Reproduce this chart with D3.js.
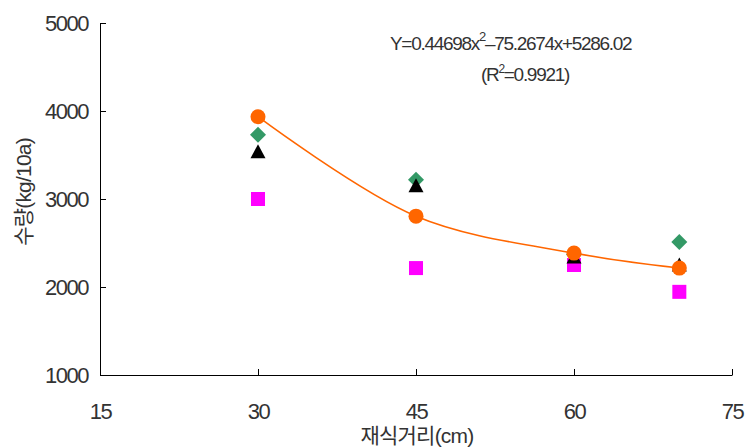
<!DOCTYPE html>
<html>
<head>
<meta charset="utf-8">
<script src="https://cdn.jsdelivr.net/npm/d3@7"></script>
<style>
  body { margin: 0; background: #fff; }
  text { font-family: "Liberation Sans", "Noto Sans CJK KR", sans-serif; fill: #333; }
</style>
</head>
<body>
<svg width="746" height="448"></svg>
<script>
// spacing (cm) and yield (kg/10a) for four series
const spacing = [30, 45, 60, 70]
const circleVals = [3935, 2805, 2385, 2215]
const diamondVals = [3730, 3220, 2370, 2510]
const triangleVals = [3530, 3145, 2335, 2245]
const squareVals = [3000, 2215, 2250, 1945]

const xTicks = [15, 30, 45, 60, 75]
const yTicks = [1000, 2000, 3000, 4000, 5000]

const svg = d3.select('svg')

const x = d3.scaleLinear().domain([15, 75]).range([100, 732])
const y = d3.scaleLinear().domain([1000, 5000]).range([375, 23])

// axes, ticks pointing inward
svg.append('g')
  .attr('transform', 'translate(0,375)')
  .call(d3.axisBottom(x).tickValues(xTicks).tickFormat(d3.format('d'))
    .tickSizeInner(-6).tickSizeOuter(0).tickPadding(28))
svg.append('g')
  .attr('transform', 'translate(100,0)')
  .call(d3.axisLeft(y).tickValues(yTicks).tickFormat(d3.format('d'))
    .tickSizeInner(-6).tickSizeOuter(0).tickPadding(12))

svg.selectAll('.domain, .tick line').attr('stroke', '#000')
svg.selectAll('.tick text')
  .attr('font-size', 22)
  .attr('letter-spacing', -1.5)
  .attr('fill', '#333')
  .style('font-family', '"Liberation Sans", sans-serif')

const pts = (vals) => vals.map((v, i) => [spacing[i], v])

// squares
svg.append('g').selectAll('rect')
  .data(pts(squareVals)).enter().append('rect')
  .attr('x', d => x(d[0]) - 7)
  .attr('y', d => y(d[1]) - 7)
  .attr('width', 14).attr('height', 14)
  .attr('fill', '#ff00ff')

// diamonds
svg.append('g').selectAll('path')
  .data(pts(diamondVals)).enter().append('path')
  .attr('d', 'M0,-8L8,0L0,8L-8,0Z')
  .attr('transform', d => `translate(${x(d[0])},${y(d[1])})`)
  .attr('fill', '#339966')

// triangles
svg.append('g').selectAll('path')
  .data(pts(triangleVals)).enter().append('path')
  .attr('d', 'M0,-8L7.5,6L-7.5,6Z')
  .attr('transform', d => `translate(${x(d[0])},${y(d[1])})`)
  .attr('fill', '#000')

// smoothed line through the circles
const line = d3.line()
  .x(d => x(d[0]))
  .y(d => y(d[1]))
  .curve(d3.curveCatmullRom.alpha(0.5))
svg.append('path')
  .datum(pts(circleVals))
  .attr('d', line)
  .attr('fill', 'none')
  .attr('stroke', '#ff6600')
  .attr('stroke-width', 1.6)

svg.append('g').selectAll('circle')
  .data(pts(circleVals)).enter().append('circle')
  .attr('cx', d => x(d[0]))
  .attr('cy', d => y(d[1]))
  .attr('r', 7.5)
  .attr('fill', '#ff6600')

// equation text
const eq = svg.append('text')
  .attr('x', 390).attr('y', 50)
  .attr('font-size', 19).attr('letter-spacing', -1.3)
eq.append('tspan').text('Y=0.44698x')
eq.append('tspan').attr('dy', -9).attr('font-size', 13).text('2')
eq.append('tspan').attr('dy', 9).text('\u201375.2674x+5286.02')

const r2 = svg.append('text')
  .attr('x', 481).attr('y', 81)
  .attr('font-size', 19).attr('letter-spacing', -1.3)
r2.append('tspan').text('(R')
r2.append('tspan').attr('dy', -8).attr('font-size', 12).text('2')
r2.append('tspan').attr('dy', 8).text('=0.9921)')

// axis titles
svg.append('text')
  .attr('transform', 'translate(31,192) rotate(-90)')
  .attr('text-anchor', 'middle')
  .attr('font-size', 21).attr('letter-spacing', -0.8)
  .text('수량(kg/10a)')

svg.append('text')
  .attr('x', 417).attr('y', 443)
  .attr('text-anchor', 'middle')
  .attr('font-size', 21).attr('letter-spacing', -0.8)
  .text('재식거리(cm)')
</script>
</body>
</html>
